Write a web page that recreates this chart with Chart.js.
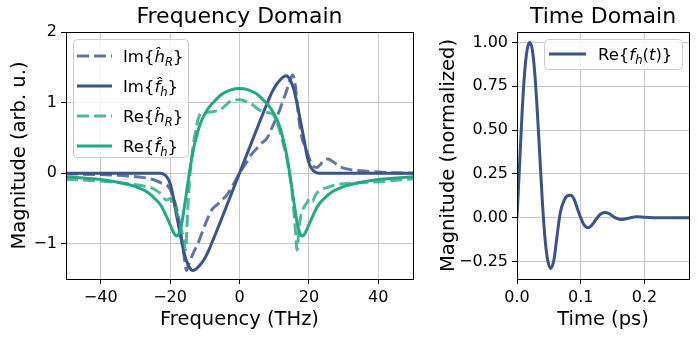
<!DOCTYPE html>
<html>
<head>
<meta charset="utf-8">
<script src="https://cdn.jsdelivr.net/npm/chart.js@4"></script>
<style>
  body { margin: 0; background: #fff; }
  #freqChart { position: absolute; left: 0; top: 0; }
  #timeChart { position: absolute; left: 430px; top: 0; }
</style>
</head>
<body>
<canvas id="freqChart" width="430" height="337"></canvas>
<canvas id="timeChart" width="268" height="337"></canvas>
<script>
// ---- data ----
const freqTicks = [-40, -20, 0, 20, 40];
const magTicks = [-1, 0, 1, 2];
const timeTicks = [0, 0.1, 0.2];
const normTicks = [-0.25, 0, 0.25, 0.5, 0.75, 1.0];

// Im{h_R} (dashed)
const imHRx = [-50, -40, -32, -28, -25, -22.5, -20.5, -19.5, -18.6, -17.6, -16.6, -15.9, -15.3, -14.7, -13.3, -12, -11, -9.5, -8, -6.5, -5, -3.5, -2, 0,
               2, 3.5, 5, 6.5, 8, 9.5, 11, 12, 13.3, 14.5, 15.3, 15.9, 16.6, 17.3, 18.1, 19, 20, 21, 22.3, 24, 25.5, 27, 29, 32, 36, 42, 50];
const imHRy = [-0.01, -0.02, -0.04, -0.06, -0.09, -0.14, -0.19, -0.28, -0.42, -0.62, -0.95, -1.2, -1.38, -1.3, -1.13, -1.0, -0.87, -0.68, -0.52, -0.45, -0.38, -0.3, -0.18, 0,
               0.15, 0.27, 0.35, 0.43, 0.5, 0.66, 0.82, 0.95, 1.13, 1.3, 1.39, 1.3, 1.0, 0.7, 0.48, 0.38, 0.22, 0.11, 0.08, 0.16, 0.2, 0.16, 0.09, 0.05, 0.03, 0.01, 0];

// Im{f_h} (solid)
const imFx = [-50, -30, -23, -22, -21, -20.2, -19.5, -18.6, -17.8, -17.1, -16.4, -15.7, -14.9, -14.2, -13.6, -12.8, -11.5, -10.3, -9.3, -8.4, -6, -4, -2, 0,
              2, 4, 6, 8.4, 9.3, 10.3, 11.5, 12.8, 13.6, 14.2, 14.9, 15.7, 16.4, 17.1, 17.8, 18.6, 19.5, 20.2, 21, 22, 23, 30, 50];
const imFy = [0, 0, 0, -0.01, -0.05, -0.12, -0.24, -0.48, -0.68, -0.86, -1.03, -1.18, -1.29, -1.35, -1.38, -1.37, -1.31, -1.23, -1.14, -1.04, -0.75, -0.5, -0.25, 0,
              0.25, 0.5, 0.75, 1.04, 1.14, 1.23, 1.31, 1.37, 1.38, 1.35, 1.29, 1.18, 1.03, 0.86, 0.68, 0.48, 0.24, 0.12, 0.05, 0.01, 0, 0, 0];

// Re{h_R} (dashed)
const reHRx = [-50, -44, -38, -32, -28, -25.8, -23, -21, -20, -19.3, -18.6, -17.8, -17.1, -16.5, -16, -15.5, -15, -14.4, -13.6, -12.8, -12, -11.2, -9.5, -8, -5.5, -4, -2.6, 0,
               2.6, 4, 5.5, 8, 9.5, 10.9, 11.8, 12.8, 13.6, 14.3, 15, 15.6, 16.1, 16.6, 17.1, 17.7, 18.6, 19.4, 20.2, 21, 22, 23.5, 25.5, 27.3, 30, 33, 37, 41, 45, 50];
const reHRy = [-0.09, -0.1, -0.12, -0.15, -0.18, -0.2, -0.28, -0.38, -0.36, -0.42, -0.48, -0.6, -0.72, -0.85, -0.98, -1.09, -0.6, -0.1, 0.3, 0.55, 0.75, 0.84, 0.86, 0.87, 0.9, 0.96, 1.02, 1.04,
               1.0, 0.96, 0.9, 0.86, 0.84, 0.71, 0.56, 0.38, 0.22, 0.02, -0.2, -0.5, -0.8, -1.09, -0.8, -0.6, -0.48, -0.42, -0.36, -0.4, -0.3, -0.24, -0.2, -0.17, -0.15, -0.14, -0.13, -0.12, -0.1, -0.08];

// Re{f_h} (solid)
const reFx = [-50, -45, -40, -35, -30, -26.5, -24, -22.5, -21, -20, -19, -18.2, -17.4, -16.6, -15.8, -15, -14.3, -13.5, -12.5, -11.3, -10, -8.5, -7, -5, -2.5, 0,
              2.5, 5, 7, 8.5, 10, 11.3, 12.5, 13.5, 14.3, 15, 15.8, 16.6, 17.4, 18.2, 19, 20, 21, 22.5, 24, 26.5, 30, 35, 40, 45, 50];
const reFy = [-0.05, -0.07, -0.09, -0.13, -0.19, -0.27, -0.38, -0.47, -0.62, -0.73, -0.84, -0.89, -0.85, -0.7, -0.45, -0.18, 0.05, 0.28, 0.5, 0.7, 0.84, 0.95, 1.03, 1.12, 1.18, 1.2,
              1.18, 1.12, 1.03, 0.95, 0.84, 0.7, 0.5, 0.28, 0.05, -0.18, -0.45, -0.7, -0.85, -0.89, -0.84, -0.73, -0.62, -0.47, -0.38, -0.27, -0.19, -0.13, -0.09, -0.07, -0.05];

// Re{f_h(t)} time domain
const timeX = [0, 0.004, 0.008, 0.012, 0.016, 0.0197, 0.024, 0.028, 0.032, 0.036, 0.040, 0.044, 0.048, 0.053, 0.058, 0.063, 0.068, 0.074, 0.079, 0.084, 0.089, 0.095,
               0.1, 0.105, 0.1115, 0.118, 0.125, 0.132, 0.139, 0.146, 0.153, 0.1635, 0.175, 0.188, 0.2, 0.215, 0.24, 0.27];
const timeY = [0, 0.3, 0.6, 0.83, 0.96, 1.0, 0.96, 0.82, 0.6, 0.34, 0.08, -0.12, -0.24, -0.29, -0.24, -0.1, 0.03, 0.1, 0.125, 0.128, 0.11, 0.05,
               0, -0.04, -0.057, -0.04, -0.005, 0.022, 0.029, 0.02, 0.002, -0.011, -0.003, 0.006, 0.002, 0, 0, 0];

// legend labels: [text, style] where i = italic, s = subscript
const labImHR = [['Im{', ''], ['\u0125', 'i'], ['R', 'is'], ['}', '']];
const labImF = [['Im{', ''], ['f\u0302', 'i'], ['h', 'is'], ['}', '']];
const labReHR = [['Re{', ''], ['\u0125', 'i'], ['R', 'is'], ['}', '']];
const labReF = [['Re{', ''], ['f\u0302', 'i'], ['h', 'is'], ['}', '']];
const labTime = [['Re{', ''], ['f', 'i'], ['h', 'is'], ['(', ''], ['t', 'i'], [')}', '']];

const FONT = '"DejaVu Sans", sans-serif';
Chart.defaults.font.family = FONT;
Chart.defaults.color = '#000';

const BLUE = '#3b528b', BLUE_A = 'rgba(59,82,139,0.8)';
const GREEN = '#22a884', GREEN_A = 'rgba(34,168,132,0.8)';
const DASH = [12, 5];

function pts(xs, ys) { return xs.map((x, i) => ({ x: x, y: ys[i] })); }
function minus(s) { return String(s).replace('-', '\u2212'); }

function drawRich(ctx, segs, x, y, size) {
    ctx.textBaseline = 'alphabetic';
    ctx.textAlign = 'left';
    ctx.fillStyle = '#000';
    const base = y + size * 0.36;
    segs.forEach(([text, style]) => {
        const sub = style.includes('s');
        const fs = sub ? size * 0.7 : size;
        ctx.font = (style.includes('i') ? 'italic ' : '') + fs + 'px ' + FONT;
        ctx.fillText(text, x, sub ? base + size * 0.22 : base);
        x += ctx.measureText(text).width;
    });
}

// title over the plot area, top/right spines, legend box
const frame = {
    id: 'frame',
    afterDraw(chart, args, opts) {
        const ctx = chart.ctx, a = chart.chartArea;
        ctx.save();
        ctx.strokeStyle = '#000';
        ctx.lineWidth = 1;
        ctx.strokeRect(Math.round(a.left) + 0.5, Math.round(a.top) + 0.5, Math.round(a.right - a.left), Math.round(a.bottom - a.top));

        ctx.font = '22px ' + FONT;
        ctx.fillStyle = '#000';
        ctx.textAlign = 'center';
        ctx.textBaseline = 'alphabetic';
        ctx.fillText(opts.title, (a.left + a.right) / 2, 23);

        const lg = opts.legend;
        ctx.beginPath();
        ctx.roundRect(lg.x + 0.5, lg.y + 0.5, lg.w, lg.h, 4);
        ctx.fillStyle = 'rgba(255,255,255,0.8)';
        ctx.fill();
        ctx.strokeStyle = '#cccccc';
        ctx.stroke();
        lg.items.forEach((it, i) => {
            const ds = chart.data.datasets[it.ds];
            const y = lg.y + lg.first + i * lg.step;
            ctx.beginPath();
            ctx.strokeStyle = ds.borderColor;
            ctx.lineWidth = ds.borderWidth;
            ctx.setLineDash(ds.borderDash || []);
            ctx.moveTo(lg.lineX0, y);
            ctx.lineTo(lg.lineX1, y);
            ctx.stroke();
            ctx.setLineDash([]);
            drawRich(ctx, it.label, lg.textX, y, lg.size);
        });
        ctx.restore();
    }
};

function lineDs(data, color, dashed, order) {
    return {
        data: data, borderColor: color, borderWidth: 3, borderDash: dashed ? DASH : [],
        pointRadius: 0, cubicInterpolationMode: 'monotone', fill: false, order: order
    };
}

function axis(min, max, ticks, fmt, title, fixed, horizontal, titlePad) {
    return {
        type: 'linear', min: min, max: max,
        afterBuildTicks: s => { s.ticks = ticks.map(v => ({ value: v })); },
        afterFit: s => { if (horizontal) s.height = fixed; else s.width = fixed; },
        ticks: { font: { size: 16 }, color: '#000', padding: 4, callback: fmt, maxRotation: 0, autoSkip: false },
        grid: { color: '#c8c8c8', lineWidth: 1, tickColor: '#000', tickLength: 5, drawTicks: true },
        border: { display: true, color: '#000', width: 1 },
        title: { display: true, text: title, font: { size: 19.5 }, color: '#000', padding: titlePad }
    };
}

new Chart(document.getElementById('freqChart'), {
    type: 'line',
    data: {
        datasets: [
            lineDs(pts(imHRx, imHRy), BLUE_A, true, 4),
            lineDs(pts(imFx, imFy), BLUE, false, 3),
            lineDs(pts(reHRx, reHRy), GREEN_A, true, 2),
            lineDs(pts(reFx, reFy), GREEN, false, 1)
        ]
    },
    options: {
        responsive: false, animation: false,
        layout: { padding: { left: 0, right: 17, top: 32, bottom: 0 } },
        scales: {
            x: axis(-50, 50, freqTicks, v => minus(v), 'Frequency (THz)', 58, true, { top: 0, bottom: 5 }),
            y: axis(-1.5, 2, magTicks, v => minus(v), 'Magnitude (arb. u.)', 66, false, { top: 8, bottom: 0 })
        },
        plugins: {
            legend: { display: false },
            tooltip: { enabled: false },
            frame: {
                title: 'Frequency Domain',
                legend: {
                    x: 73, y: 39, w: 115, h: 118, first: 17, step: 30, lineX0: 77, lineX1: 112, textX: 123, size: 16.5,
                    items: [{ ds: 0, label: labImHR }, { ds: 1, label: labImF }, { ds: 2, label: labReHR }, { ds: 3, label: labReF }]
                }
            }
        }
    },
    plugins: [frame]
});

new Chart(document.getElementById('timeChart'), {
    type: 'line',
    data: {
        datasets: [lineDs(pts(timeX, timeY), BLUE, false, 1)]
    },
    options: {
        responsive: false, animation: false,
        layout: { padding: { left: 0, right: 9, top: 32, bottom: 0 } },
        scales: {
            x: axis(0, 0.27, timeTicks, v => v.toFixed(1), 'Time (ps)', 58, true, { top: 0, bottom: 5 }),
            y: axis(-0.35, 1.06, normTicks, v => minus(v.toFixed(2)), 'Magnitude (normalized)', 87, false, { top: 7, bottom: 0 })
        },
        plugins: {
            legend: { display: false },
            tooltip: { enabled: false },
            frame: {
                title: 'Time Domain',
                legend: {
                    x: 114, y: 39, w: 138, h: 30, first: 15, step: 30, lineX0: 119, lineX1: 156, textX: 168, size: 16.5,
                    items: [{ ds: 0, label: labTime }]
                }
            }
        }
    },
    plugins: [frame]
});
</script>
</body>
</html>
